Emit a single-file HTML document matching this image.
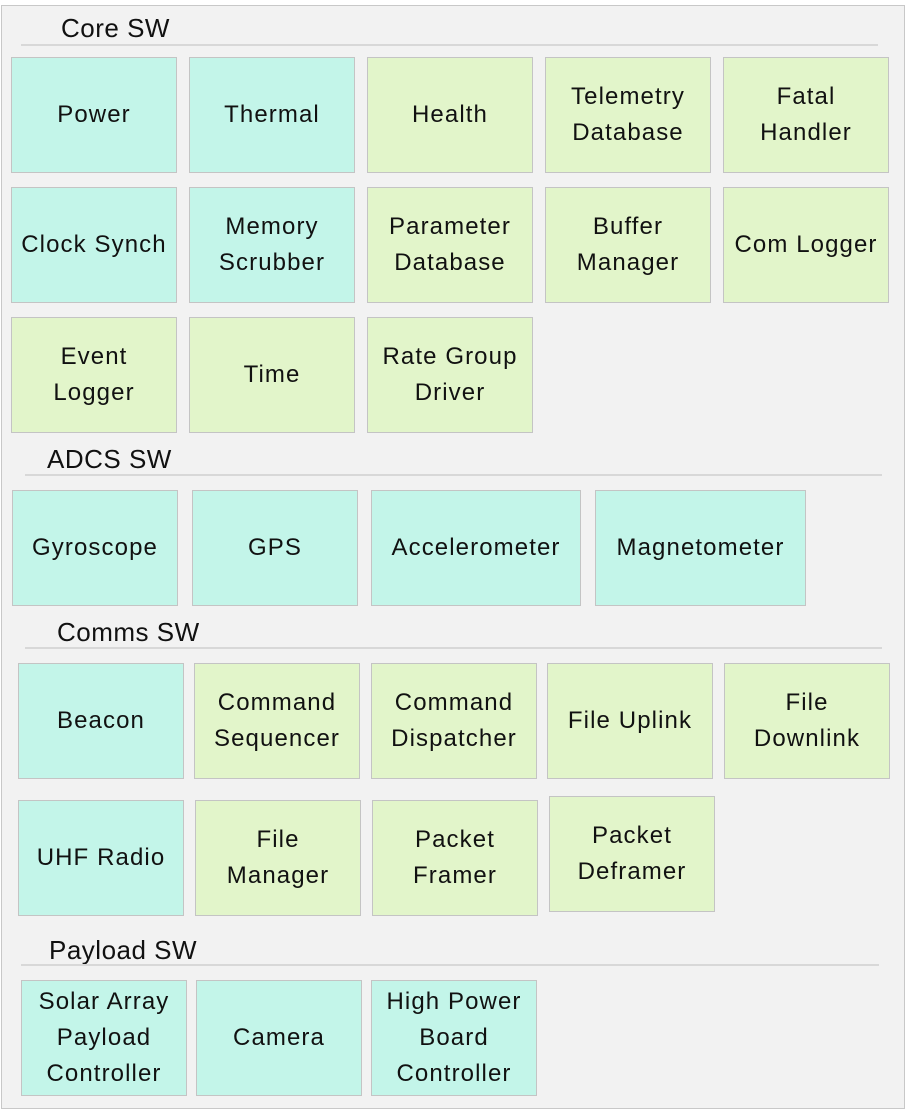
<!DOCTYPE html>
<html><head><meta charset="utf-8"><style>
body{margin:0;width:907px;height:1111px;background:#fff;position:relative;overflow:hidden;font-family:"Liberation Sans",sans-serif;}
.outer{position:absolute;left:1px;top:5px;width:902px;height:1102px;background:#f2f2f2;border:1px solid #c8c8c8;}
.b{position:absolute;box-sizing:border-box;width:166px;height:116px;border:1px solid #c4c4c4;display:flex;align-items:center;justify-content:center;text-align:center;font-size:24px;line-height:36px;color:#111;letter-spacing:1.1px;white-space:nowrap}
.c{background:#c3f5e9}.g{background:#e2f5ca}
.h{position:absolute;font-size:26px;color:#111;letter-spacing:0.5px}
.l{position:absolute;height:2px;background:#d8d8d8}
</style></head><body>
<div class="outer"></div>
<div class="h" style="left:61px;top:13px">Core SW</div><div class="l" style="left:21px;top:44px;width:857px"></div>
<div class="b c" style="left:11px;top:57px">Power</div>
<div class="b c" style="left:189px;top:57px">Thermal</div>
<div class="b g" style="left:367px;top:57px">Health</div>
<div class="b g" style="left:545px;top:57px">Telemetry<br>Database</div>
<div class="b g" style="left:723px;top:57px">Fatal<br>Handler</div>
<div class="b c" style="left:11px;top:187px">Clock Synch</div>
<div class="b c" style="left:189px;top:187px">Memory<br>Scrubber</div>
<div class="b g" style="left:367px;top:187px">Parameter<br>Database</div>
<div class="b g" style="left:545px;top:187px">Buffer<br>Manager</div>
<div class="b g" style="left:723px;top:187px">Com Logger</div>
<div class="b g" style="left:11px;top:317px">Event<br>Logger</div>
<div class="b g" style="left:189px;top:317px">Time</div>
<div class="b g" style="left:367px;top:317px">Rate Group<br>Driver</div>

<div class="h" style="left:47px;top:444px">ADCS SW</div><div class="l" style="left:25px;top:474px;width:857px"></div>
<div class="b c" style="left:12px;top:490px">Gyroscope</div>
<div class="b c" style="left:192px;top:490px">GPS</div>
<div class="b c" style="left:371px;top:490px;width:210px">Accelerometer</div>
<div class="b c" style="left:595px;top:490px;width:211px">Magnetometer</div>

<div class="h" style="left:57px;top:617px">Comms SW</div><div class="l" style="left:25px;top:647px;width:857px"></div>
<div class="b c" style="left:18px;top:663px">Beacon</div>
<div class="b g" style="left:194px;top:663px">Command<br>Sequencer</div>
<div class="b g" style="left:371px;top:663px">Command<br>Dispatcher</div>
<div class="b g" style="left:547px;top:663px">File Uplink</div>
<div class="b g" style="left:724px;top:663px">File<br>Downlink</div>
<div class="b c" style="left:18px;top:800px">UHF Radio</div>
<div class="b g" style="left:195px;top:800px">File<br>Manager</div>
<div class="b g" style="left:372px;top:800px">Packet<br>Framer</div>
<div class="b g" style="left:549px;top:796px">Packet<br>Deframer</div>

<div class="h" style="left:49px;top:935px">Payload SW</div><div class="l" style="left:21px;top:964px;width:858px"></div>
<div class="b c" style="left:21px;top:980px">Solar Array<br>Payload<br>Controller</div>
<div class="b c" style="left:196px;top:980px">Camera</div>
<div class="b c" style="left:371px;top:980px">High Power<br>Board<br>Controller</div>
</body></html>
